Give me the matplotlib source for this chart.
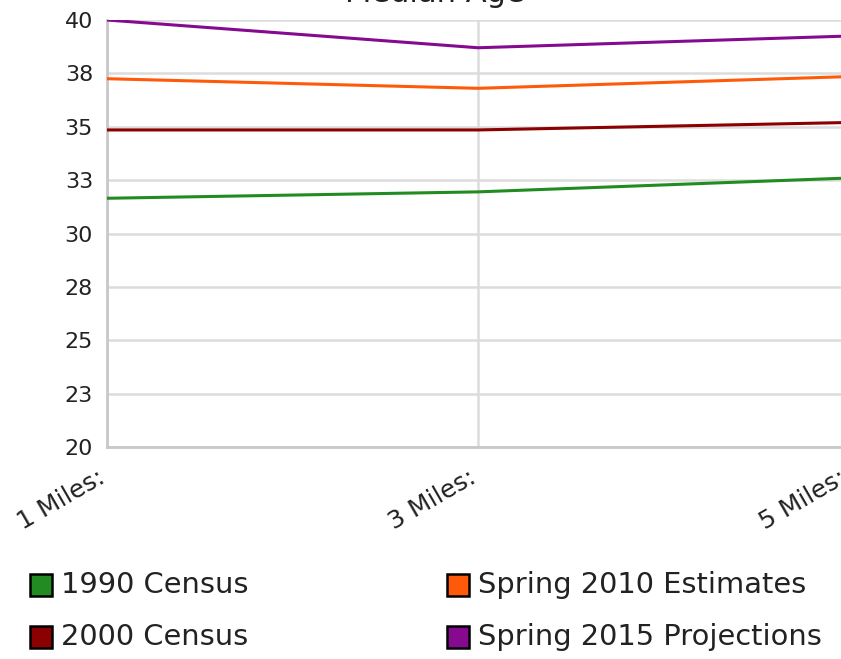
import matplotlib
matplotlib.use("Agg")
import matplotlib.pyplot as plt
import matplotlib.transforms as mtransforms
from matplotlib.patches import Rectangle

categories = ["1 Miles:", "3 Miles:", "5 Miles:"]
series_names = ["1990 Census", "2000 Census", "Spring 2010 Estimates", "Spring 2015 Projections"]
census_1990 = [31.65, 31.95, 32.6]
census_2000 = [34.85, 34.85, 35.2]
estimates_2010 = [37.25, 36.8, 37.35]
projections_2015 = [40.0, 38.7, 39.25]
colors = ["#228b22", "#8b0000", "#ff5a0a", "#850a8f"]
y_ticks = [20, 22.5, 25, 27.5, 30, 32.5, 35, 37.5, 40]
y_tick_labels = ["20", "23", "25", "28", "30", "33", "35", "38", "40"]

W, H = 841, 659
fig = plt.figure(figsize=(W/100, H/100), dpi=100)
ax = fig.add_axes([107/W, (H-447)/H, 742/W, 427/H])
x = list(range(len(categories)))
for vals, c, name in zip([census_1990, census_2000, estimates_2010, projections_2015], colors, series_names):
    ax.plot(x, vals, color=c, lw=2.2, label=name, solid_capstyle="butt", zorder=3)

ax.set_xlim(0, 2)
ax.set_ylim(20, 40)
ax.set_yticks(y_ticks)
ax.set_yticklabels(y_tick_labels, fontsize=16, color="#222222")
ax.set_xticks(x)
ax.set_xticklabels(categories, fontsize=18, rotation=30, ha="right", va="top", color="#222222",
                   rotation_mode="anchor")
ax.tick_params(axis="y", length=0, pad=10)
ax.tick_params(axis="x", length=0, pad=14)
offset = mtransforms.ScaledTranslation(-10/100, 1/100, fig.dpi_scale_trans)
for lbl in ax.get_xticklabels():
    lbl.set_transform(lbl.get_transform() + offset)
ax.grid(True, color="#dcdcdc", lw=1.8)
ax.set_axisbelow(True)
for s in ["top", "right"]:
    ax.spines[s].set_visible(False)
for s in ["left", "bottom"]:
    ax.spines[s].set_color("#c8c8c8")
    ax.spines[s].set_linewidth(2)

fig.text(435/W, 1 - 1.5/H, "Median Age", ha="center", va="baseline", fontsize=22, color="#222222")

# legend (two columns)
leg_pos = [(30, 585), (30, 637), (447, 585), (447, 637)]
for (lx, ly), c, name in zip(leg_pos, colors, series_names):
    fig.add_artist(Rectangle((lx/W, 1 - (ly + 11)/H), 22/W, 22/H, facecolor=c, edgecolor="black",
                             lw=1.8, transform=fig.transFigure))
    fig.text((lx + 31)/W, 1 - ly/H, name, ha="left", va="center", fontsize=20.8, color="#222222")

fig.savefig("out.png", dpi=100)
